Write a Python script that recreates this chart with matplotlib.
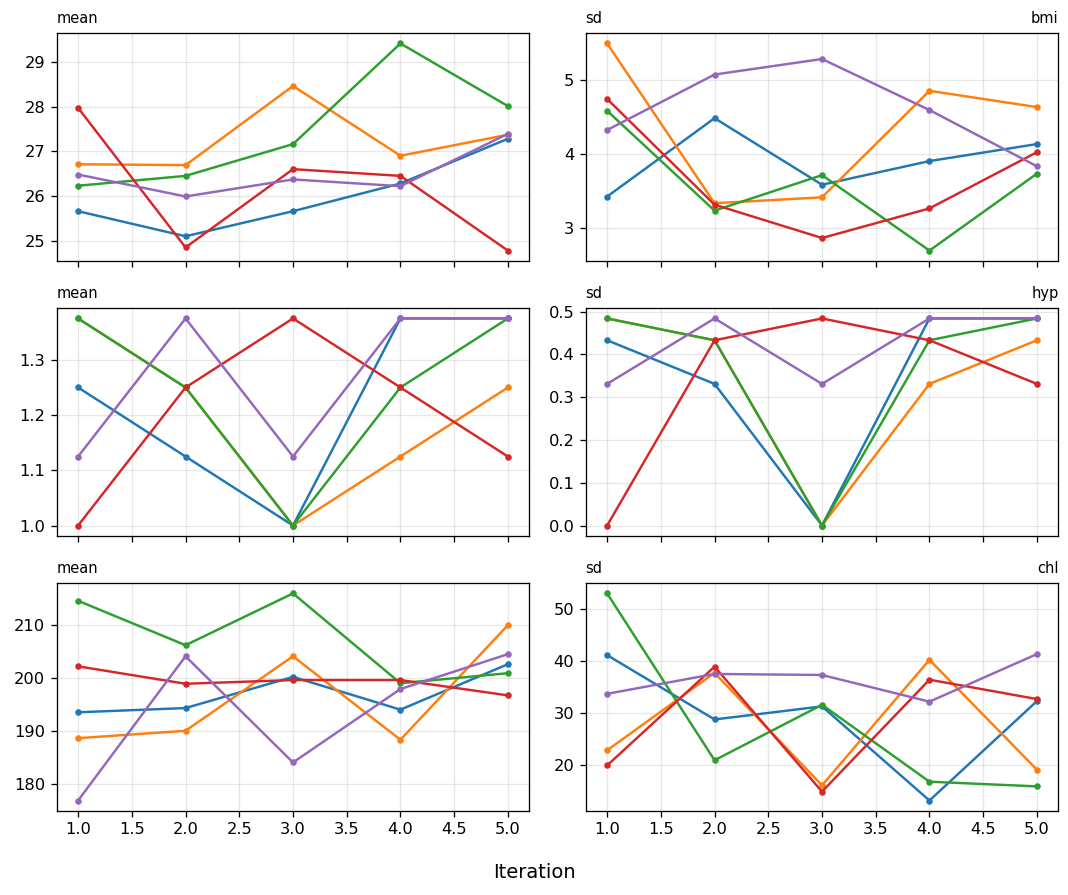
import matplotlib
matplotlib.use("Agg")
import matplotlib.pyplot as plt
from matplotlib.ticker import FormatStrFormatter, MultipleLocator

iterations = [1, 2, 3, 4, 5]
variables = ["bmi", "hyp", "chl"]
colors = ["#1f77b4", "#ff7f0e", "#2ca02c", "#d62728", "#9467bd"]

# chain values: one list per imputation chain (5 chains)
bmi_mean = [
    [25.66, 25.10, 25.66, 26.28, 27.28],
    [26.71, 26.69, 28.46, 26.90, 27.37],
    [26.23, 26.45, 27.16, 29.41, 28.01],
    [27.97, 24.85, 26.60, 26.45, 24.78],
    [26.48, 25.99, 26.37, 26.22, 27.39],
]
bmi_sd = [
    [3.42, 4.48, 3.58, 3.90, 4.13],
    [5.49, 3.33, 3.41, 4.85, 4.63],
    [4.58, 3.23, 3.71, 2.69, 3.73],
    [4.74, 3.31, 2.86, 3.26, 4.02],
    [4.32, 5.07, 5.28, 4.59, 3.83],
]
hyp_mean = [
    [1.25, 1.125, 1.0, 1.375, 1.375],
    [1.375, 1.25, 1.0, 1.125, 1.25],
    [1.375, 1.25, 1.0, 1.25, 1.375],
    [1.0, 1.25, 1.375, 1.25, 1.125],
    [1.125, 1.375, 1.125, 1.375, 1.375],
]
hyp_sd = [
    [0.433, 0.331, 0.0, 0.484, 0.484],
    [0.484, 0.433, 0.0, 0.331, 0.433],
    [0.484, 0.433, 0.0, 0.433, 0.484],
    [0.0, 0.433, 0.484, 0.433, 0.331],
    [0.331, 0.484, 0.331, 0.484, 0.484],
]
chl_mean = [
    [193.5, 194.3, 200.2, 194.0, 202.6],
    [188.6, 190.0, 204.1, 188.3, 210.0],
    [214.6, 206.2, 216.0, 199.0, 200.9],
    [202.2, 198.9, 199.6, 199.6, 196.7],
    [176.8, 204.1, 184.0, 197.9, 204.5],
]
chl_sd = [
    [41.1, 28.8, 31.3, 13.3, 32.3],
    [22.9, 37.7, 16.2, 40.2, 19.2],
    [52.9, 21.0, 31.6, 16.9, 16.0],
    [20.0, 38.9, 15.0, 36.4, 32.7],
    [33.7, 37.5, 37.3, 32.2, 41.3],
]

data = {
    "bmi": (bmi_mean, bmi_sd),
    "hyp": (hyp_mean, hyp_sd),
    "chl": (chl_mean, chl_sd),
}

DPI = 117
fig, axes = plt.subplots(3, 2, sharex=True, figsize=(1068 / DPI, 895 / DPI), dpi=DPI)
fig.subplots_adjust(left=0.053, right=0.991, top=0.963, bottom=0.094,
                    wspace=0.119, hspace=0.207)

for r, var in enumerate(variables):
    means, sds = data[var]
    for c, (series, label) in enumerate([(means, "mean"), (sds, "sd")]):
        ax = axes[r, c]
        for chain, col in zip(series, colors):
            ax.plot(iterations, chain, color=col, marker="o", markersize=3,
                    linewidth=1.5)
        ax.grid(True, alpha=0.3)
        ax.set_title(label, loc="left", fontsize=9)
        if c == 1:
            ax.set_title(var, loc="right", fontsize=9)
        ax.tick_params(labelsize=10)

axes[0, 1].yaxis.set_major_locator(MultipleLocator(1))
axes[-1, 0].set_xticks([1.0, 1.5, 2.0, 2.5, 3.0, 3.5, 4.0, 4.5, 5.0])
axes[-1, 0].xaxis.set_major_formatter(FormatStrFormatter("%.1f"))
fig.supxlabel("Iteration", fontsize=12, y=0.015)

fig.savefig("out.png", dpi=DPI)
